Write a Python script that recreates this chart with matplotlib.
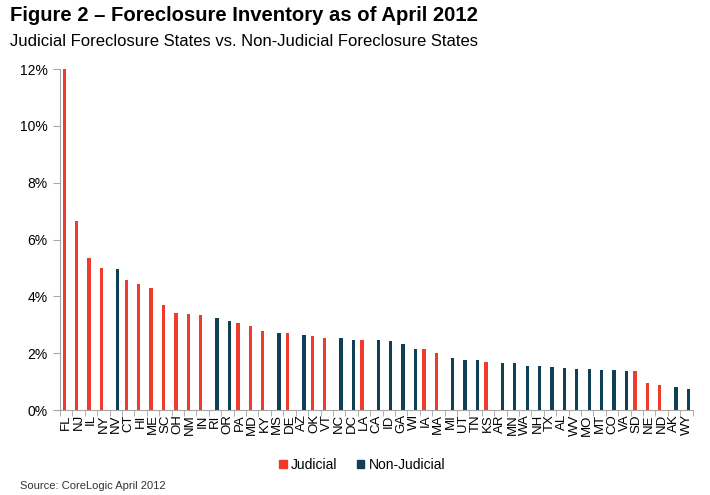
import numpy as np
import matplotlib
matplotlib.use("Agg")
import matplotlib.pyplot as plt
from matplotlib.patches import Patch

plt.rcParams['font.family'] = ['Liberation Sans', 'DejaVu Sans']

# data (% of mortgages in foreclosure)
states = ['FL', 'NJ', 'IL', 'NY', 'NV', 'CT', 'HI', 'ME', 'SC', 'OH', 'NM', 'IN', 'RI',
          'OR', 'PA', 'MD', 'KY', 'MS', 'DE', 'AZ', 'OK', 'VT', 'NC', 'DC', 'LA', 'CA',
          'ID', 'GA', 'WI', 'IA', 'MA', 'MI', 'UT', 'TN', 'KS', 'AR', 'MN', 'WA', 'NH',
          'TX', 'AL', 'WV', 'MO', 'MT', 'CO', 'VA', 'SD', 'NE', 'ND', 'AK', 'WY']
inventory = [12.0, 6.65, 5.34, 4.98, 4.96, 4.59, 4.43, 4.30, 3.69, 3.43, 3.38, 3.34, 3.25,
             3.14, 3.07, 2.94, 2.79, 2.70, 2.70, 2.64, 2.60, 2.55, 2.55, 2.46, 2.46, 2.46,
             2.44, 2.32, 2.13, 2.13, 1.99, 1.83, 1.76, 1.76, 1.69, 1.65, 1.65, 1.54, 1.54,
             1.51, 1.48, 1.45, 1.43, 1.41, 1.41, 1.38, 1.36, 0.95, 0.88, 0.80, 0.73]
judicial = ['FL', 'NJ', 'IL', 'NY', 'CT', 'HI', 'ME', 'SC', 'OH', 'NM', 'IN', 'PA', 'MD',
            'KY', 'DE', 'OK', 'VT', 'LA', 'IA', 'MA', 'KS', 'SD', 'NE', 'ND']

RED = '#EE3B2B'
NAVY = '#0E3F55'
AXIS_GREY = '#A6A6A6'

x = np.arange(len(states))
vals = np.array(inventory)
is_jud = np.array([s in judicial for s in states])

fig = plt.figure(figsize=(7.10, 4.95), dpi=100)
ax = fig.add_axes([0.0845, 0.1717, 0.8911, 0.6889])

ax.bar(x[is_jud] - 0.16, vals[is_jud], width=0.27, color=RED, label='Judicial')
ax.bar(x[~is_jud] + 0.16, vals[~is_jud], width=0.27, color=NAVY, label='Non-Judicial')

ax.set_xlim(-0.5, len(states) - 0.5)
ax.set_ylim(0, 12)
ax.set_yticks(np.arange(0, 13, 2))
ax.set_yticklabels([f'{v}%' for v in range(0, 13, 2)], fontsize=10)
ax.set_xticks(x)
ax.set_xticklabels(states, rotation=90, fontsize=9.5)
ax.set_xticks(np.arange(-0.5, len(states), 1), minor=True)
ax.tick_params(axis='x', which='major', length=0, pad=3)
ax.tick_params(axis='x', which='minor', length=4, color=AXIS_GREY)
ax.tick_params(axis='y', length=5, color=AXIS_GREY, pad=4)

for side in ['top', 'right']:
    ax.spines[side].set_visible(False)
for side in ['left', 'bottom']:
    ax.spines[side].set_color(AXIS_GREY)

fig.text(0.014, 0.958, 'Figure 2 \u2013 Foreclosure Inventory as of April 2012',
         fontsize=14.6, fontweight='bold', va='baseline')
fig.text(0.014, 0.907, 'Judicial Foreclosure States vs. Non-Judicial Foreclosure States',
         fontsize=12, va='baseline')
fig.text(0.028, 0.012, 'Source: CoreLogic April 2012', fontsize=8, color='#333333',
         va='baseline')

handles = [Patch(color=RED, label='Judicial'), Patch(color=NAVY, label='Non-Judicial')]
fig.legend(handles=handles, loc='center', bbox_to_anchor=(0.51, 0.061), ncol=2,
           frameon=False, fontsize=10, handlelength=0.55, handleheight=0.55,
           handletextpad=0.3, columnspacing=1.4)

fig.savefig('out.png', dpi=100)
